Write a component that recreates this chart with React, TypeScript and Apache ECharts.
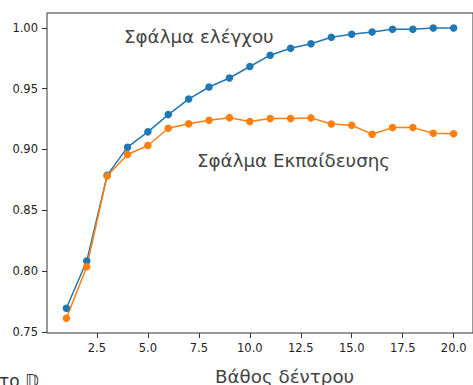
import React, { useEffect, useRef } from "react";
import * as echarts from "echarts";

const depths = [1, 2, 3, 4, 5, 6, 7, 8, 9, 10, 11, 12, 13, 14, 15, 16, 17, 18, 19, 20];
const blueValues = [0.7694, 0.8082, 0.8787, 0.9019, 0.9145, 0.9287, 0.9415, 0.9514, 0.9588, 0.9683, 0.9776, 0.9833, 0.987, 0.9923, 0.9948, 0.9967, 0.999, 0.999, 1.0, 1.0];
const orangeValues = [0.7612, 0.8035, 0.8781, 0.8959, 0.9033, 0.9175, 0.9211, 0.924, 0.9262, 0.923, 0.9254, 0.9254, 0.926, 0.921, 0.9199, 0.9126, 0.918, 0.918, 0.9134, 0.9129];
const xTicks = [2.5, 5, 7.5, 10, 12.5, 15, 17.5, 20];
const yTicks = [0.75, 0.8, 0.85, 0.9, 0.95, 1.0];
const labelUpper = "Σφάλμα ελέγχου";
const labelLower = "Σφάλμα Εκπαίδευσης";
const xTitle = "Βάθος δέντρου";
const cornerText = "το 𝔻";

export default function App() {
  const ref = useRef<HTMLDivElement>(null);
  useEffect(() => {
    if (!ref.current) return;
    const chart = echarts.init(ref.current, null, { renderer: "svg" });
    const tickFont = { fontFamily: "DejaVu Sans", fontSize: 11.5, color: "#222" };
    const annFont = { fontFamily: "DejaVu Sans", fontSize: 18.3, fill: "#444", verticalAlign: "middle" as const, align: "left" as const };
    chart.setOption({
      animation: false,
      backgroundColor: "#fff",
      grid: {
        left: 47,
        top: 13,
        bottom: 52,
        right: -3,
        show: true,
        borderColor: "#333",
        borderWidth: 1,
        backgroundColor: "transparent",
      },
      xAxis: {
        type: "value",
        min: 0.05,
        max: 20.95,
        splitLine: { show: false },
        axisLine: { show: false },
        axisTick: { show: true, customValues: xTicks, length: 5, lineStyle: { color: "#333" } },
        axisLabel: {
          customValues: xTicks,
          formatter: (v: number) => v.toFixed(1),
          margin: 9,
          ...tickFont,
        },
      },
      yAxis: {
        type: "value",
        min: 0.749,
        max: 1.0123,
        splitLine: { show: false },
        axisLine: { show: false },
        axisTick: { show: true, customValues: yTicks, length: 5, lineStyle: { color: "#333" } },
        axisLabel: {
          customValues: yTicks,
          formatter: (v: number) => v.toFixed(2),
          margin: 9,
          ...tickFont,
        },
      },
      series: [
        {
          type: "line",
          data: depths.map((d, i) => [d, blueValues[i]]),
          color: "#1f77b4",
          lineStyle: { width: 1.5 },
          symbol: "circle",
          symbolSize: 7.5,
          itemStyle: { color: "#1f77b4" },
        },
        {
          type: "line",
          data: depths.map((d, i) => [d, orangeValues[i]]),
          color: "#ff7f0e",
          lineStyle: { width: 1.5 },
          symbol: "circle",
          symbolSize: 7.5,
          itemStyle: { color: "#ff7f0e" },
        },
      ],
      graphic: [
        { type: "text", x: 124, y: 36.5, style: { text: labelUpper, ...annFont } },
        { type: "text", x: 197, y: 160.5, style: { text: labelLower, ...annFont } },
        { type: "text", x: 215, y: 376.5, style: { text: xTitle, ...annFont } },
        { type: "text", x: -1, y: 372, style: { text: cornerText, fontFamily: "DejaVu Sans", fontSize: 17, fill: "#333" } },
      ],
    });
    return () => chart.dispose();
  }, []);
  return (
    <div
      ref={ref}
      style={{ position: "absolute", left: 0, top: 0, width: 473, height: 385, overflow: "hidden" }}
    />
  );
}
